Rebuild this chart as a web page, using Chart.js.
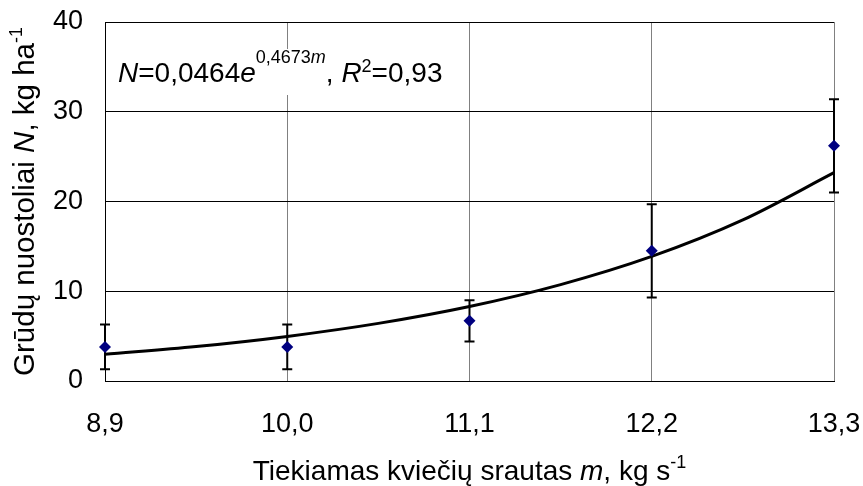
<!DOCTYPE html>
<html>
<head>
<meta charset="utf-8">
<script src="https://cdn.jsdelivr.net/npm/chart.js@4"></script>
<style>
html,body{margin:0;padding:0;background:#fff;}
#wrap{width:863px;height:486px;position:relative;}
</style>
</head>
<body>
<div id="wrap"><canvas id="c" width="863" height="486"></canvas></div>
<script>
// Categories (feed rate m, kg/s)
const categories = [8.9, 10.0, 11.1, 12.2, 13.3];
const tickLabels = ['8,9', '10,0', '11,1', '12,2', '13,3'];
// Measured grain losses and error bar half-widths
const lossValues = [3.8, 3.8, 6.7, 14.5, 26.2];
const lossErrors = [2.5, 2.5, 2.3, 5.2, 5.2];
// Trend curve
const trendM = [8.9, 9.45, 10.0, 10.55, 11.1, 11.65, 12.2, 12.75, 13.3];
const trendN = [2.97, 3.84, 4.97, 6.42, 8.30, 10.74, 13.88, 17.95, 23.21];
const yTicks = [0, 10, 20, 30, 40];

const FONT = '"Liberation Sans", Arial, sans-serif';

function drawRich(ctx, segs, x, y, align, base) {
  // segs: {t, it, sup (raise px)}
  const small = 18;
  const fontOf = s => (s.it ? 'italic ' : '') + (s.sup ? small : base) + 'px ' + FONT;
  const widths = segs.map(s => { ctx.font = fontOf(s); return ctx.measureText(s.t).width; });
  const total = widths.reduce((a, b) => a + b, 0);
  let cx = align === 'center' ? x - total / 2 : x;
  ctx.textBaseline = 'alphabetic';
  ctx.textAlign = 'left';
  segs.forEach((s, i) => {
    ctx.font = fontOf(s);
    ctx.fillText(s.t, cx, s.sup ? y - s.sup : y);
    cx += widths[i];
  });
}

const extras = {
  id: 'extras',
  beforeDatasetsDraw(chart) {
    const ctx = chart.ctx, xs = chart.scales.x, ys = chart.scales.y;
    ctx.save();
    // equation label box
    ctx.fillStyle = '#fff';
    ctx.fillRect(xs.left + 1, 49, 350, 46);
    // error bars
    ctx.strokeStyle = '#000';
    ctx.lineWidth = 2;
    categories.forEach((m, i) => {
      const px = xs.getPixelForValue(m);
      const top = ys.getPixelForValue(lossValues[i] + lossErrors[i]);
      const bot = ys.getPixelForValue(lossValues[i] - lossErrors[i]);
      ctx.beginPath();
      ctx.moveTo(px, top); ctx.lineTo(px, bot);
      ctx.moveTo(px - 5, top); ctx.lineTo(px + 5, top);
      ctx.moveTo(px - 5, bot); ctx.lineTo(px + 5, bot);
      ctx.stroke();
    });
    ctx.restore();
  },
  afterDraw(chart) {
    const ctx = chart.ctx, xs = chart.scales.x, ys = chart.scales.y;
    ctx.save();
    ctx.fillStyle = '#000';
    // equation
    drawRich(ctx, [
      {t: 'N', it: true}, {t: '=0,0464'}, {t: 'e', it: true},
      {t: '0,4673', sup: 19}, {t: 'm', it: true, sup: 19},
      {t: ', '}, {t: 'R', it: true}, {t: '2', sup: 10}, {t: '=0,93'}
    ], 118, 82, 'left', 28);
    // x title
    drawRich(ctx, [
      {t: 'Tiekiamas kviečių srautas '}, {t: 'm', it: true}, {t: ', kg s'}, {t: '-1', sup: 12}
    ], (xs.left + xs.right) / 2, 480, 'center', 28);
    // y title
    ctx.translate(34, (ys.top + ys.bottom) / 2);
    ctx.rotate(-Math.PI / 2);
    drawRich(ctx, [
      {t: 'Grūdų nuostoliai '}, {t: 'N', it: true}, {t: ', kg ha'}, {t: '-1', sup: 12}
    ], 0, 0, 'center', 29.5);
    ctx.restore();
  }
};

new Chart(document.getElementById('c'), {
  type: 'scatter',
  data: {
    datasets: [
      {
        type: 'line',
        data: trendM.map((m, i) => ({x: m, y: trendN[i]})),
        borderColor: '#000',
        borderWidth: 3,
        pointRadius: 0,
        cubicInterpolationMode: 'monotone',
        fill: false,
        clip: false,
        order: 2
      },
      {
        data: categories.map((m, i) => ({x: m, y: lossValues[i]})),
        backgroundColor: '#000080',
        borderColor: '#000080',
        pointStyle: 'rectRot',
        pointRadius: 6,
        pointBorderWidth: 0,
        clip: false,
        order: 1
      }
    ]
  },
  options: {
    responsive: false,
    animation: false,
    events: [],
    layout: {padding: {left: 0, right: 29, top: 22, bottom: 0}},
    plugins: {legend: {display: false}, tooltip: {enabled: false}},
    scales: {
      x: {
        type: 'linear',
        min: categories[0],
        max: categories[categories.length - 1],
        afterBuildTicks(scale) { scale.ticks = categories.map(v => ({value: v})); },
        afterFit(scale) { scale.height = 105; scale.paddingLeft = 0; scale.paddingRight = 0; },
        ticks: {
          callback: (v) => tickLabels[categories.indexOf(v)] ?? '',
          font: {family: FONT, size: 27},
          color: '#000',
          padding: 27,
          maxRotation: 0,
          autoSkip: false
        },
        grid: {color: '#808080', lineWidth: 1, tickLength: 0, drawTicks: false},
        border: {color: '#000', width: 1}
      },
      y: {
        min: 0, max: 40,
        afterBuildTicks(scale) { scale.ticks = yTicks.map(v => ({value: v})); },
        afterFit(scale) { scale.width = 105; scale.paddingTop = 0; scale.paddingBottom = 0; },
        ticks: {
          font: {family: FONT, size: 27},
          color: '#000',
          padding: 22
        },
        grid: {color: '#000', lineWidth: 1, drawTicks: false, tickLength: 0},
        border: {color: '#000', width: 1}
      }
    }
  },
  plugins: [extras]
});
</script>
</body>
</html>
